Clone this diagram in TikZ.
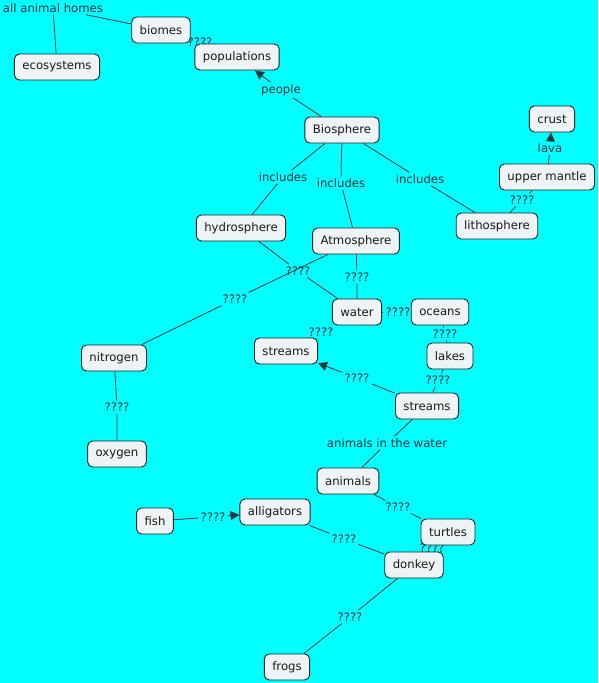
\documentclass[tikz,border=0pt]{standalone}
\usepackage{fontspec}
\setmainfont{DejaVu Sans}
\usetikzlibrary{arrows.meta, backgrounds}

\definecolor{mapbg}{HTML}{00FFFF}
\definecolor{conceptfill}{HTML}{EEF3F5}
\definecolor{conceptline}{HTML}{15232B}
\definecolor{linkline}{HTML}{1C3A3E}
\definecolor{linktext}{HTML}{0B3440}
\newcommand\mapfont{\fontsize{11.7}{13}\selectfont}

\begin{document}
\begin{tikzpicture}[
        x=1pt, y=-1pt,
        concept/.style={draw=conceptline, line width=0.9pt, fill=conceptfill, rounded corners=5pt, inner xsep=8pt, inner ysep=2pt, minimum height=26pt, font=\mapfont, text=black!90},
        linkword/.style={inner sep=2pt, font=\mapfont, text=linktext},
        link/.style={draw=linkline, line width=0.8pt},
        >={Triangle[length=9pt, width=9pt]}
    ]
% Linking phrases (under the concepts)
\node[linkword] (homes) at (53,8)   {all animal homes};
\node[linkword] (q1)    at (200,42) {????};
\node[linkword] (people) at (281,90) {people};
\node[linkword] (inc1)  at (283,177) {includes};
\node[linkword] (inc2)  at (341,183) {includes};
\node[linkword] (inc3)  at (420,179) {includes};
\node[linkword] (lava)  at (550,148) {lava};
\node[linkword] (q2)    at (522,200) {????};
\node[linkword] (q3)    at (298,271) {????};
\node[linkword] (q4)    at (357,277) {????};
\node[linkword] (q5)    at (235,299) {????};
\node[linkword] (q6)    at (398,312) {????};
\node[linkword] (q7)    at (321,332) {????};
\node[linkword] (q8)    at (445,334) {????};
\node[linkword] (q9)    at (438,380) {????};
\node[linkword] (q10)   at (357,378) {????};
\node[linkword] (q11)   at (117,407) {????};
\node[linkword] (water2) at (387,443) {animals in the water};
\node[linkword] (q12)   at (398,507) {????};
\node[linkword] (q13)   at (213,517) {????};
\node[linkword] (q14)   at (344,539) {????};
\node[linkword] (q15)   at (432,548) {????};
\node[linkword] (q16)   at (350,617) {????};

% Concepts
\node[concept] (biomes)      at (161,30)  {biomes};
\node[concept] (ecosystems)  at (57,67)   {ecosystems};
\node[concept] (populations) at (237,57)  {populations};
\node[concept] (biosphere)   at (342,130) {Biosphere};
\node[concept] (crust)       at (552,119) {crust};
\node[concept] (mantle)      at (547,177) {upper mantle};
\node[concept] (hydro)       at (241,228) {hydrosphere};
\node[concept] (atmo)        at (356,241) {Atmosphere};
\node[concept] (litho)       at (497,226) {lithosphere};
\node[concept] (water)       at (357,312) {water};
\node[concept] (oceans)      at (440,312) {oceans};
\node[concept] (streamsA)    at (286,351) {streams};
\node[concept] (lakes)       at (450,356) {lakes};
\node[concept] (nitrogen)    at (114,358) {nitrogen};
\node[concept] (streamsB)    at (427,406) {streams};
\node[concept] (oxygen)      at (117,454) {oxygen};
\node[concept] (animals)     at (348,481) {animals};
\node[concept] (alligators)  at (275,512) {alligators};
\node[concept] (fish)        at (155,521) {fish};
\node[concept] (turtles)     at (448,532) {turtles};
\node[concept] (donkey)      at (414,565) {donkey};
\node[concept] (frogs)       at (287,667) {frogs};

\begin{scope}[on background layer]
% Background and margins
\fill[mapbg] (0,0) rectangle (598,683);

% Top of the map
\draw[link] (ecosystems) -- (homes) -- (biomes);
\draw[link] (biomes) -- (q1) -- (populations);
\draw[link] (biosphere) -- (people);
\draw[link, ->] (people) -- (populations);

% Spheres
\draw[link] (biosphere) -- (inc1) -- (hydro);
\draw[link] (biosphere) -- (inc2) -- (atmo);
\draw[link] (biosphere) -- (inc3) -- (litho);
\draw[link] (litho) -- (q2) -- (mantle);
\draw[link] (mantle) -- (lava);
\draw[link, ->] (lava) -- (crust);

% Water and air
\draw[link] (hydro) -- (q3) -- (water);
\draw[link] (atmo) -- (q4) -- (water);
\draw[link] (atmo) -- (q5) -- (nitrogen);
\draw[link] (nitrogen) -- (q11) -- (oxygen);
\draw[link] (water) -- (q6) -- (oceans);
\draw[link] (water) -- (q7) -- (streamsA);
\draw[link] (oceans) -- (q8) -- (lakes);
\draw[link] (lakes) -- (q9) -- (streamsB);
\draw[link] (streamsB) -- (q10);
\draw[link, ->] (q10) -- (streamsA);

% Animals
\draw[link] (streamsB) -- (water2) -- (animals);
\draw[link] (animals) -- (q12) -- (turtles);
\draw[link] (turtles) -- (q15) -- (donkey);
\draw[link] (alligators) -- (q14) -- (donkey);
\draw[link] (fish) -- (q13);
\draw[link, ->] (q13) -- (alligators);
\draw[link] (donkey) -- (q16) -- (frogs);
\end{scope}
\end{tikzpicture}
\end{document}
